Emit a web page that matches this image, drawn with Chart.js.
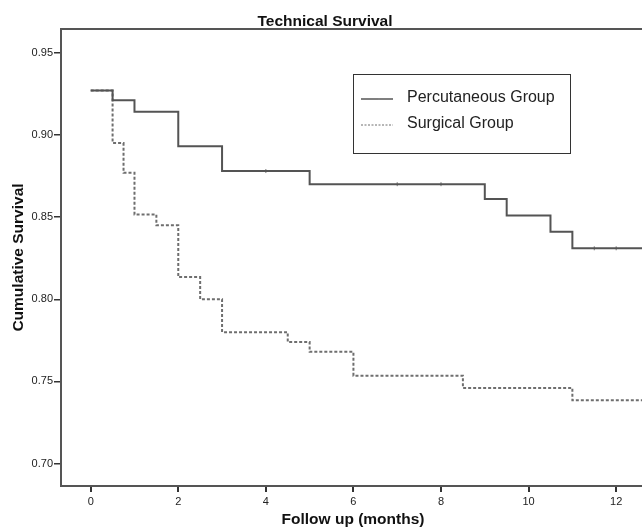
<!DOCTYPE html>
<html>
<head>
<meta charset="utf-8">
<script src="https://cdn.jsdelivr.net/npm/chart.js@4/dist/chart.umd.min.js"></script>
<style>
html,body{margin:0;padding:0;background:#fff;}
#c{display:block;}
</style>
</head>
<body>
<canvas id="c" width="642" height="529"></canvas>
<script>
// ---- data ----
const chartTitle = "Technical Survival";
const xAxisTitle = "Follow up (months)";
const yAxisTitle = "Cumulative Survival";
const seriesNames = ["Percutaneous Group", "Surgical Group"];

// Kaplan-Meier steps (time in months, cumulative survival after the step)
const percTimes = [0, 0.5, 1, 2, 3, 5, 9, 9.5, 10.5, 11, 12.7];
const percSurv  = [0.927, 0.921, 0.914, 0.893, 0.878, 0.870, 0.861, 0.851, 0.841, 0.831, 0.831];

// censoring marks on the percutaneous curve
const percCensorTimes = [4, 7, 8, 11.5, 12];
const percCensorSurv  = [0.878, 0.870, 0.870, 0.831, 0.831];

const surgTimes = [0, 0.5, 0.75, 1, 1.5, 2, 2.5, 3, 4.5, 5, 6, 8.5, 11, 12.7];
const surgSurv  = [0.927, 0.895, 0.877, 0.8515, 0.845, 0.8135, 0.800, 0.780, 0.774, 0.768, 0.7535, 0.746, 0.7385, 0.7385];

const xTicks = [0, 2, 4, 6, 8, 10, 12];
const yTicks = [0.70, 0.75, 0.80, 0.85, 0.90, 0.95];

// ---- build chart ----
const toPts = (t, s) => t.map((v, i) => ({x: v, y: s[i]}));
const FONT = 'Arial, "Liberation Sans", sans-serif';
const AXIS = '#555555';
const SOLID = '#545454';
const DASH = '#6e6e6e';

const decorations = {
  id: 'decorations',
  afterDraw(chart) {
    const ctx = chart.ctx;
    const a = chart.chartArea;
    ctx.save();
    // top frame line
    ctx.strokeStyle = AXIS;
    ctx.lineWidth = 2;
    ctx.beginPath();
    ctx.moveTo(a.left - 1, a.top);
    ctx.lineTo(a.right, a.top);
    ctx.stroke();

    // title
    ctx.fillStyle = '#111';
    ctx.font = 'bold 15.5px ' + FONT;
    ctx.textAlign = 'center';
    ctx.textBaseline = 'alphabetic';
    ctx.fillText(chartTitle, 325, 26);

    // x axis title
    ctx.textBaseline = 'middle';
    ctx.fillText(xAxisTitle, 353, 520);

    // y axis title
    ctx.save();
    ctx.translate(19, (a.top + a.bottom) / 2);
    ctx.rotate(-Math.PI / 2);
    ctx.fillText(yAxisTitle, 0, 0);
    ctx.restore();

    // legend box
    ctx.strokeStyle = '#333';
    ctx.lineWidth = 1;
    ctx.strokeRect(353.5, 74.5, 217, 79);
    const rows = [98, 124];
    const cols = [SOLID, DASH];
    rows.forEach((y, i) => {
      ctx.beginPath();
      ctx.strokeStyle = cols[i];
      ctx.lineWidth = i === 0 ? 1.5 : 1;
      ctx.setLineDash(i === 0 ? [] : [2, 1.5]);
      ctx.moveTo(361, y + 1);
      ctx.lineTo(393, y + 1);
      ctx.stroke();
      ctx.setLineDash([]);
      if (i === 0) {
        ctx.beginPath();
        ctx.lineWidth = 1;
        ctx.strokeStyle = '#888';
        ctx.moveTo(379, y);
        ctx.lineTo(379, y + 2);
        ctx.stroke();
      }
      ctx.fillStyle = '#222';
      ctx.font = '16px ' + FONT;
      ctx.textAlign = 'left';
      ctx.textBaseline = 'middle';
      ctx.fillText(seriesNames[i], 407, y);
    });
    ctx.restore();
  }
};

new Chart(document.getElementById('c'), {
  type: 'line',
  data: {
    datasets: [
      {
        label: seriesNames[0],
        data: toPts(percTimes, percSurv),
        stepped: 'before',
        borderColor: SOLID,
        borderWidth: 2,
        pointRadius: 0,
        fill: false
      },
      {
        label: seriesNames[1],
        data: toPts(surgTimes, surgSurv),
        stepped: 'before',
        borderColor: DASH,
        borderWidth: 2,
        borderDash: [3, 2],
        pointRadius: 0,
        fill: false
      },
      {
        label: 'censored',
        type: 'scatter',
        data: toPts(percCensorTimes, percCensorSurv),
        showLine: false,
        pointStyle: 'line',
        rotation: 90,
        pointRadius: 2,
        pointBorderWidth: 1,
        borderColor: '#777',
        backgroundColor: '#777'
      }
    ]
  },
  options: {
    responsive: false,
    animation: false,
    devicePixelRatio: 1,
    layout: { autoPadding: false, padding: { top: 29, left: 0, right: 0, bottom: 0 } },
    plugins: {
      legend: { display: false },
      title: { display: false },
      tooltip: { enabled: false }
    },
    scales: {
      x: {
        type: 'linear',
        min: -0.678,
        max: 12.59,
        afterBuildTicks: s => { s.ticks = xTicks.map(v => ({value: v})); },
        afterFit: s => { s.height = 43; },
        ticks: {
          color: '#222',
          font: { family: FONT, size: 11 },
          padding: 3,
          maxRotation: 0,
          autoSkip: false,
          callback: v => String(v)
        },
        grid: { drawOnChartArea: false, drawTicks: true, tickLength: 6, color: '#333', lineWidth: 2 },
        border: { display: true, color: AXIS, width: 2 }
      },
      y: {
        type: 'linear',
        min: 0.6864,
        max: 0.9644,
        afterBuildTicks: s => { s.ticks = yTicks.map(v => ({value: v})); },
        afterFit: s => { s.width = 61; },
        ticks: {
          color: '#222',
          font: { family: FONT, size: 11 },
          padding: 1,
          autoSkip: false,
          callback: v => Number(v).toFixed(2)
        },
        grid: { drawOnChartArea: false, drawTicks: true, tickLength: 7, color: '#333', lineWidth: 1.5 },
        border: { display: true, color: AXIS, width: 2 }
      }
    }
  },
  plugins: [decorations]
});
</script>
</body>
</html>
